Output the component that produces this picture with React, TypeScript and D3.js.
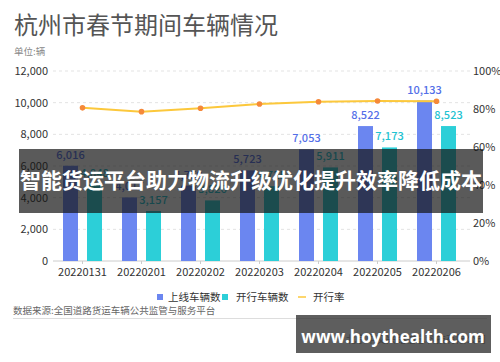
import React, { useEffect } from 'react';
import * as d3 from 'd3';

// dates on the x axis
const dates = ['20220131', '20220201', '20220202', '20220203', '20220204', '20220205', '20220206'];
// 上线车辆数
const onlineCounts = [6016, 4017, 4759, 5723, 7053, 8522, 10133];
// 开行车辆数
const runningCounts = [4848, 3157, 3826, 4725, 5911, 7173, 8523];
// 开行率 (%)
const runRates = [80.6, 78.6, 80.4, 82.6, 83.8, 84.2, 84.1];

const leftTicks = [0, 2000, 4000, 6000, 8000, 10000, 12000];
const rightTicks = [0, 20, 40, 60, 80, 100];
const seriesNames = ['上线车辆数', '开行车辆数'];

const FONT = '"Noto Sans CJK SC", "Noto Sans", sans-serif';
const BLUE = '#6b86f0';
const CYAN = '#2ccfd8';
const BLUE_TEXT = '#5470e8';
const CYAN_TEXT = '#1fc3d2';
const LINE = '#fcc83c';
const DOT = '#f5893a';

export default function App() {
  useEffect(() => {
    document.body.style.margin = '0';
  }, []);

  const width = 500;
  const height = 362;
  const left = 53;
  const right = 466;
  const top = 71;
  const bottom = 261;

  const x = d3.scaleBand().domain(dates).range([left, right]);
  const x1 = d3.scaleBand().domain(seriesNames).range([10, 49]).paddingInner(0.375);
  const y = d3.scaleLinear().domain([0, 12000]).range([bottom, top]);
  const yRate = d3.scaleLinear().domain([0, 100]).range([bottom, top]);
  const fmt = d3.format(',');

  const line = d3.line<number>()
    .x((d, i) => (x(dates[i]) || 0) + x.bandwidth() / 2)
    .y(d => yRate(d));

  const bars = [
    { name: seriesNames[0], values: onlineCounts, fill: BLUE, text: BLUE_TEXT },
    { name: seriesNames[1], values: runningCounts, fill: CYAN, text: CYAN_TEXT },
  ];

  return (
    <svg width={width} height={height} style={{ display: 'block', background: '#fff' }} fontFamily={FONT}>
      <text x={14} y={34} fontSize={24} fill="#555">杭州市春节期间车辆情况</text>
      <text x={14} y={55} fontSize={9.5} fill="#888">单位:辆</text>

      {/* grid + left axis */}
      {leftTicks.map(t => (
        <g key={t}>
          {t > 0 && (
            <line x1={left} x2={470} y1={y(t)} y2={y(t)} stroke="#e3e3e3" strokeDasharray="3,3" />
          )}
          <text x={48} y={y(t)} dy="0.35em" textAnchor="end" fontSize={11} fill="#333">{fmt(t)}</text>
        </g>
      ))}
      <line x1={left} x2={470} y1={bottom} y2={bottom} stroke="#ccc" />
      {dates.map(d => (
        <line key={d} x1={(x(d) || 0) + x.bandwidth() / 2} x2={(x(d) || 0) + x.bandwidth() / 2}
          y1={bottom} y2={bottom + 3} stroke="#ccc" />
      ))}

      {/* right axis */}
      {rightTicks.map(t => (
        <text key={t} x={473} y={yRate(t)} dy="0.35em" fontSize={11} fill="#333">{t}%</text>
      ))}

      {/* bars */}
      {bars.map(s => (
        <g key={s.name}>
          {s.values.map((v, i) => {
            const bx = (x(dates[i]) || 0) + (x1(s.name) || 0);
            return (
              <g key={i}>
                <rect x={bx} y={y(v)} width={x1.bandwidth()} height={bottom - y(v)} fill={s.fill} />
                <text x={bx + x1.bandwidth() / 2} y={y(v) - 7} textAnchor="middle" fontSize={11}
                  fontWeight={500} fill={s.text}>{fmt(v)}</text>
              </g>
            );
          })}
        </g>
      ))}

      {/* rate line */}
      <path d={line(runRates) || ''} fill="none" stroke={LINE} strokeWidth={2} />
      {runRates.map((r, i) => (
        <circle key={i} cx={(x(dates[i]) || 0) + x.bandwidth() / 2} cy={yRate(r)} r={2.8} fill={DOT} />
      ))}

      {/* x labels */}
      {dates.map(d => (
        <text key={d} x={(x(d) || 0) + x.bandwidth() / 2} y={276} textAnchor="middle" fontSize={11} fill="#333">{d}</text>
      ))}

      {/* legend */}
      <rect x={157} y={294} width={6} height={6} fill={BLUE} />
      <text x={168} y={297} dy="0.35em" fontSize={10.5} fill="#333">上线车辆数</text>
      <rect x={222} y={294} width={6} height={6} fill={CYAN} />
      <text x={236} y={297} dy="0.35em" fontSize={10.5} fill="#333">开行车辆数</text>
      <line x1={298} x2={306} y1={297} y2={297} stroke={LINE} strokeWidth={1.5} />
      <text x={313} y={297} dy="0.35em" fontSize={10.5} fill="#333">开行率</text>

      <text x={13} y={311} dy="0.35em" fontSize={9.5} fill="#666">数据来源:全国道路货运车辆公共监管与服务平台</text>
      <line x1={13} x2={487} y1={318.5} y2={318.5} stroke="#ddd" />
      <text x={486} y={339} dy="0.35em" textAnchor="end" fontSize={10} fill="#888">北京中交兴路信息科技有限公司</text>

      {/* overlay banner */}
      <rect x={19} y={149} width={464} height={64} fill="rgb(20,20,20)" fillOpacity={0.7} />
      <text x={251} y={181} dy="0.35em" textAnchor="middle" fontSize={21} fontWeight={700} fill="#fff">
        智能货运平台助力物流升级优化提升效率降低成本
      </text>

      {/* watermark */}
      <rect x={296} y={315} width={195} height={38} fill="rgb(40,40,40)" fillOpacity={0.75} />
      <text x={393} y={337} dy="0.35em" textAnchor="middle" fontSize={17} fontWeight={700} fill="#fff"
        fontFamily='"Open Sans", "DejaVu Sans", sans-serif'>www.hoythealth.com</text>
    </svg>
  );
}
